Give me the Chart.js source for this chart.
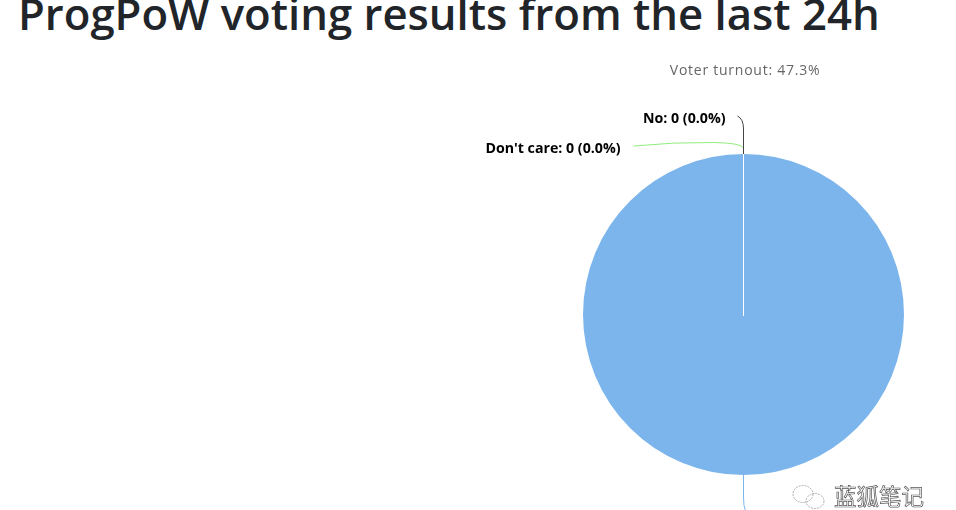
<!DOCTYPE html>
<html>
<head>
<meta charset="utf-8">
<title>ProgPoW voting results</title>
<script src="https://cdn.jsdelivr.net/npm/chart.js@4"></script>
<style>
  html, body { margin: 0; padding: 0; background: #fff; overflow: hidden; }
  #wrap { position: relative; width: 956px; height: 510px; overflow: hidden; }
  #chart { position: absolute; left: 0; top: 0; }
  h1 {
    position: absolute; left: 18px; top: -17.5px; margin: 0;
    font: 600 43.7px "Open Sans", sans-serif; color: #212529; white-space: nowrap;
  }
  #mark {
    position: absolute; left: 834px; top: 479px;
    font: 22.5px "Noto Sans CJK SC", sans-serif; color: #fff; white-space: nowrap;
    -webkit-text-stroke: 0.7px #555;
  }
  #icon { position: absolute; left: 790px; top: 483px; }
</style>
</head>
<body>
<div id="wrap">
  <h1>ProgPoW voting results from the last 24h</h1>
  <canvas id="chart" width="956" height="510"></canvas>
  <svg id="icon" width="38" height="27" fill="none" stroke="#999" stroke-width="0.8">
    <ellipse cx="13" cy="11" rx="10" ry="8.5" stroke-dasharray="2 1"/>
    <ellipse cx="25" cy="18" rx="9" ry="7.5" stroke-dasharray="2 1"/>
  </svg>
  <div id="mark">蓝狐笔记</div>
</div>
<script>
const categories = ["Yes", "No", "Don't care"];
// the Yes label is cut off in the picture, only its 100% share can be seen
const votes = [100, 0, 0];
const colors = ["#7cb5ec", "#434348", "#90ed7d"];
const subtitle = "Voter turnout: 47.3%";

function pctLabel(i) {
  const total = votes.reduce((a, b) => a + b, 0);
  return categories[i] + ": " + votes[i] + " (" + (votes[i] / total * 100).toFixed(1) + "%)";
}

// subtitle, white seam and curved leader lines with their labels
const pieLabels = {
  id: "pieLabels",
  afterDatasetsDraw(chart) {
    const ctx = chart.ctx;
    const arc = chart.getDatasetMeta(0).data[1];
    const cx = arc.x, cy = arc.y, r = arc.outerRadius;
    const top = cy - r, bottom = cy + r;

    ctx.save();
    ctx.fillStyle = "#666666";
    ctx.font = '14px "Open Sans", sans-serif';
    ctx.letterSpacing = "0.75px";
    ctx.textAlign = "center";
    ctx.textBaseline = "middle";
    ctx.fillText(subtitle, cx + 1.5, 71.5);
    ctx.letterSpacing = "0px";

    ctx.strokeStyle = "#ffffff";
    ctx.lineWidth = 1;
    ctx.beginPath();
    ctx.moveTo(cx, cy + 1.5);
    ctx.lineTo(cx, top);
    ctx.stroke();

    ctx.strokeStyle = colors[2];
    ctx.beginPath();
    ctx.moveTo(cx, top);
    ctx.lineTo(cx, top - 6);
    ctx.quadraticCurveTo(cx - 2, top - 11, cx - 30, top - 11.5);
    ctx.quadraticCurveTo(cx - 70, top - 12, cx - 110, top - 8);
    ctx.stroke();

    ctx.strokeStyle = colors[1];
    ctx.beginPath();
    ctx.moveTo(cx, top);
    ctx.lineTo(cx, top - 25);
    ctx.quadraticCurveTo(cx, top - 35, cx - 6, top - 38);
    ctx.stroke();

    ctx.strokeStyle = colors[0];
    ctx.beginPath();
    ctx.moveTo(cx, bottom);
    ctx.lineTo(cx, bottom + 22);
    ctx.quadraticCurveTo(cx, bottom + 32, cx + 2, bottom + 36);
    ctx.stroke();

    ctx.fillStyle = "#000000";
    ctx.font = 'bold 14.2px "Open Sans", sans-serif';
    ctx.textAlign = "right";
    ctx.fillText(pctLabel(1), cx - 18, top - 35.5);
    ctx.fillText(pctLabel(2), cx - 123, top - 5.5);
    ctx.restore();
  }
};

new Chart(document.getElementById("chart"), {
  type: "pie",
  data: {
    labels: categories,
    datasets: [{
      data: votes,
      backgroundColor: colors,
      borderWidth: 0
    }]
  },
  options: {
    responsive: false,
    animation: false,
    devicePixelRatio: 1,
    layout: { padding: { left: 583, right: 52, top: 154, bottom: 35 } },
    plugins: { legend: { display: false }, tooltip: { enabled: false } }
  },
  plugins: [pieLabels]
});
</script>
</body>
</html>
